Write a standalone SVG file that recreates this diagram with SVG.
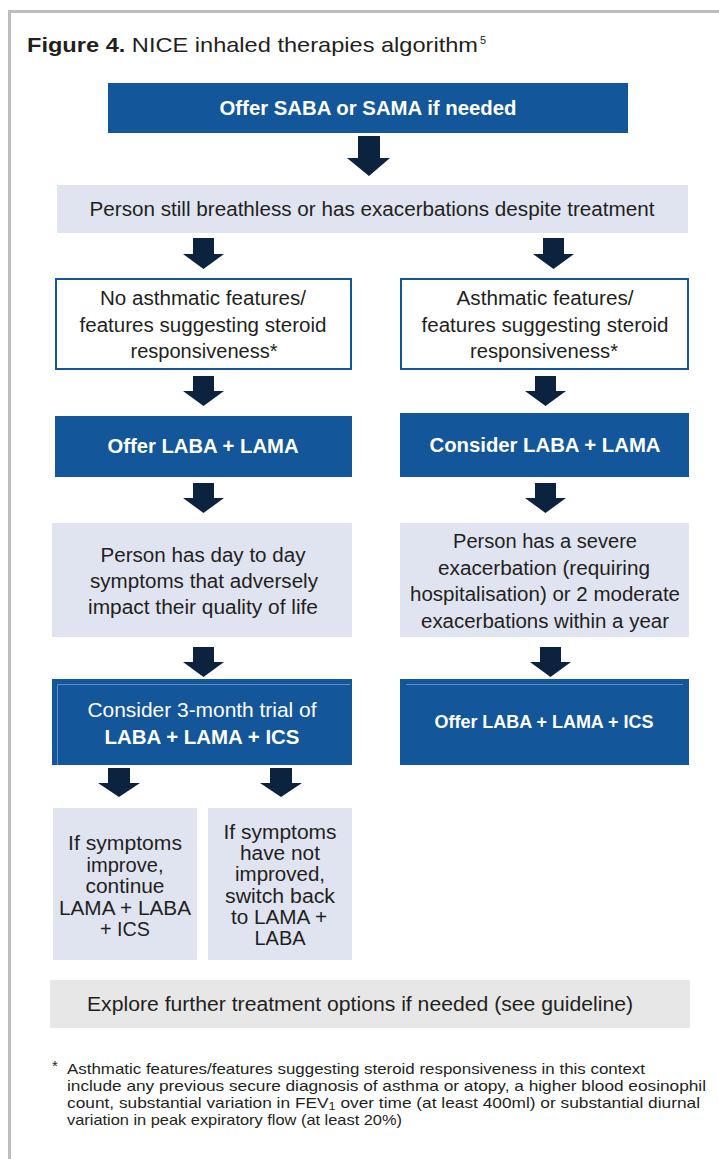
<svg xmlns="http://www.w3.org/2000/svg" width="719" height="1159" viewBox="0 0 719 1159">
<defs>
<style>
text{font-family:"Liberation Sans",Arial,sans-serif;fill:#231f20;text-anchor:middle}
.t{font-size:20px}
.b{font-weight:bold;fill:#ffffff}
.w{fill:#ffffff}
.blue{fill:#13569a}
.lav{fill:#e0e4f0}
.gray{fill:#e7e7e7}
.outl{fill:#ffffff;stroke:#13569a;stroke-width:2}
.arr{fill:#0c2340}
.inner{stroke:#5f8fc2;stroke-width:1;fill:none}
.fn{font-size:15px;text-anchor:start}
</style>
</defs>
<rect x="0" y="0" width="719" height="1159" fill="#ffffff"/>
<rect x="9.5" y="11.5" width="720" height="1160" fill="none" stroke="#bdbdbd" stroke-width="3"/>
<text x="27" y="52" style="font-size:21px;text-anchor:start" textLength="451" lengthAdjust="spacingAndGlyphs"><tspan font-weight="bold">Figure 4.</tspan> NICE inhaled therapies algorithm</text>
<text x="480" y="44" style="font-size:11px;text-anchor:start">5</text>

<g id="connectors">
<path class="arr" d="M358 136H380V158H390L369 176L347 158H358Z"/>
<path class="arr" d="M193 238H214V254H224L203.5 269L183 254H193Z"/>
<path class="arr" d="M543 238H564V254H574L553.5 269L533 254H543Z"/>
<path class="arr" d="M193 376H214V391H224L203.5 406L183 391H193Z"/>
<path class="arr" d="M535 376H556V391H566L545.5 406L525 391H535Z"/>
<path class="arr" d="M193 483H214V498H224L203.5 513L183 498H193Z"/>
<path class="arr" d="M535 483H556V498H566L545.5 513L525 498H535Z"/>
<path class="arr" d="M193 647H214V662H224L203.5 677L183 662H193Z"/>
<path class="arr" d="M540 647H561V662H571L550.5 677L530 662H540Z"/>
<path class="arr" d="M108 768H130V783H140L119 797L98 783H108Z"/>
<path class="arr" d="M270 768H292V783H302L281 797L260 783H270Z"/>
</g>

<g id="n1">
<rect class="blue" x="108" y="83" width="520" height="50"/>
<text class="t b" x="368" y="115" textLength="297" lengthAdjust="spacingAndGlyphs">Offer SABA or SAMA if needed</text>
</g>
<g id="n2">
<rect class="lav" x="57" y="185" width="631" height="48"/>
<text class="t" x="372" y="216" textLength="565" lengthAdjust="spacingAndGlyphs">Person still breathless or has exacerbations despite treatment</text>
</g>
<g id="n3">
<rect class="outl" x="56" y="279" width="295" height="90"/>
<text class="t" x="203" y="305" textLength="206" lengthAdjust="spacingAndGlyphs">No asthmatic features/</text>
<text class="t" x="203" y="332" textLength="247" lengthAdjust="spacingAndGlyphs">features suggesting steroid</text>
<text class="t" x="204" y="358" textLength="147" lengthAdjust="spacingAndGlyphs">responsiveness*</text>
</g>
<g id="n4">
<rect class="outl" x="401" y="279" width="287" height="90"/>
<text class="t" x="545" y="305" textLength="177" lengthAdjust="spacingAndGlyphs">Asthmatic features/</text>
<text class="t" x="545" y="332" textLength="247" lengthAdjust="spacingAndGlyphs">features suggesting steroid</text>
<text class="t" x="544" y="358" textLength="148" lengthAdjust="spacingAndGlyphs">responsiveness*</text>
</g>
<g id="n5">
<rect class="blue" x="55" y="416" width="297" height="61"/>
<text class="t b" x="203" y="453" textLength="191" lengthAdjust="spacingAndGlyphs">Offer LABA + LAMA</text>
</g>
<g id="n6">
<rect class="blue" x="400" y="413" width="289" height="64"/>
<text class="t b" x="545" y="452" textLength="231" lengthAdjust="spacingAndGlyphs">Consider LABA + LAMA</text>
</g>
<g id="n7">
<rect class="lav" x="52" y="523" width="300" height="114"/>
<text class="t" x="203" y="562" textLength="205" lengthAdjust="spacingAndGlyphs">Person has day to day</text>
<text class="t" x="204" y="588" textLength="228" lengthAdjust="spacingAndGlyphs">symptoms that adversely</text>
<text class="t" x="203" y="614" textLength="230" lengthAdjust="spacingAndGlyphs">impact their quality of life</text>
</g>
<g id="n8">
<rect class="lav" x="400" y="523" width="289" height="114"/>
<text class="t" x="545" y="548" textLength="184" lengthAdjust="spacingAndGlyphs">Person has a severe</text>
<text class="t" x="544" y="575" textLength="212" lengthAdjust="spacingAndGlyphs">exacerbation (requiring</text>
<text class="t" x="545" y="601" textLength="270" lengthAdjust="spacingAndGlyphs">hospitalisation) or 2 moderate</text>
<text class="t" x="545" y="628" textLength="248" lengthAdjust="spacingAndGlyphs">exacerbations within a year</text>
</g>
<g id="n9">
<rect class="blue" x="52" y="679" width="300" height="86"/>
<path class="inner" d="M57.5 765V684.5H350"/>
<text class="t w" x="202" y="717" textLength="229" lengthAdjust="spacingAndGlyphs">Consider 3-month trial of</text>
<text class="t b" x="202" y="744" textLength="195" lengthAdjust="spacingAndGlyphs">LABA + LAMA + ICS</text>
</g>
<g id="n10">
<rect class="blue" x="400" y="679" width="289" height="86"/>
<path class="inner" d="M406 684.5H683"/>
<text class="b" x="544" y="728" style="font-size:18px" textLength="219" lengthAdjust="spacingAndGlyphs">Offer LABA + LAMA + ICS</text>
</g>
<g id="n11">
<rect class="lav" x="53" y="808" width="144" height="152"/>
<text class="t" x="125" y="850" textLength="114" lengthAdjust="spacingAndGlyphs">If symptoms</text>
<text class="t" x="125" y="872" textLength="77" lengthAdjust="spacingAndGlyphs">improve,</text>
<text class="t" x="125" y="893" textLength="79" lengthAdjust="spacingAndGlyphs">continue</text>
<text class="t" x="125" y="915" textLength="132" lengthAdjust="spacingAndGlyphs">LAMA + LABA</text>
<text class="t" x="125" y="936" textLength="50" lengthAdjust="spacingAndGlyphs">+ ICS</text>
</g>
<g id="n12">
<rect class="lav" x="208" y="808" width="144" height="152"/>
<text class="t" x="280" y="839" textLength="113" lengthAdjust="spacingAndGlyphs">If symptoms</text>
<text class="t" x="280" y="860" textLength="80" lengthAdjust="spacingAndGlyphs">have not</text>
<text class="t" x="280" y="881" textLength="90" lengthAdjust="spacingAndGlyphs">improved,</text>
<text class="t" x="280" y="903" textLength="110" lengthAdjust="spacingAndGlyphs">switch back</text>
<text class="t" x="279" y="924" textLength="96" lengthAdjust="spacingAndGlyphs">to LAMA +</text>
<text class="t" x="280" y="945" textLength="51" lengthAdjust="spacingAndGlyphs">LABA</text>
</g>
<g id="n13">
<rect class="gray" x="50" y="980" width="640" height="48"/>
<text class="t" x="360" y="1011" textLength="546" lengthAdjust="spacingAndGlyphs">Explore further treatment options if needed (see guideline)</text>
</g>
<g id="footnote">
<text class="fn" x="52" y="1071">*</text>
<text class="fn" x="67" y="1074" textLength="578" lengthAdjust="spacingAndGlyphs">Asthmatic features/features suggesting steroid responsiveness in this context</text>
<text class="fn" x="67" y="1091" textLength="639" lengthAdjust="spacingAndGlyphs">include any previous secure diagnosis of asthma or atopy, a higher blood eosinophil</text>
<text class="fn" x="67" y="1108" textLength="633" lengthAdjust="spacingAndGlyphs">count, substantial variation in FEV<tspan font-size="11" dy="2">1</tspan><tspan dy="-2"> over time (at least 400ml) or substantial diurnal</tspan></text>
<text class="fn" x="67" y="1125" textLength="335" lengthAdjust="spacingAndGlyphs">variation in peak expiratory flow (at least 20%)</text>
</g>
</svg>
